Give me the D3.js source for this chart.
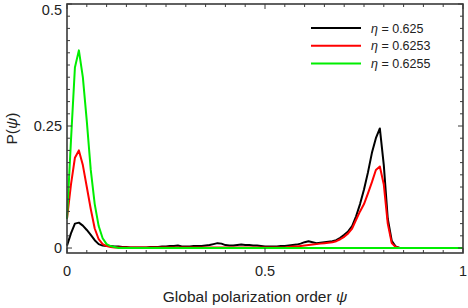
<!DOCTYPE html>
<html lang="en">
<head>
<meta charset="utf-8">
<title>P(psi)</title>
<script src="https://d3js.org/d3.v7.min.js"></script>
<style>
  body { margin: 0; background: #fff; }
  text { font-family: "Liberation Sans", Arial, sans-serif; fill: #222; }
  .curve { fill: none; stroke-width: 2px; stroke-linejoin: round; }
</style>
</head>
<body>
<svg width="468" height="308"></svg>
<script>
// bins of psi, 0 .. 1 in steps of 0.01
var psi = d3.range(101).map(function(i) { return i / 100; });

var black = [0.005,0.03,0.05,0.052,0.046,0.037,0.027,0.016,0.008,0.005,
  0.004,0.004,0.003,0.003,0.002,0.002,0.001,0.001,0.001,0.001,
  0.001,0.002,0.002,0.002,0.003,0.003,0.004,0.004,0.005,0.003,
  0.003,0.003,0.004,0.004,0.004,0.005,0.006,0.008,0.010,0.009,
  0.006,0.005,0.005,0.006,0.007,0.006,0.006,0.005,0.005,0.004,
  0.003,0.003,0.003,0.003,0.004,0.004,0.005,0.006,0.007,0.009,
  0.012,0.014,0.012,0.010,0.011,0.012,0.013,0.014,0.016,0.021,
  0.027,0.034,0.045,0.065,0.09,0.12,0.155,0.195,0.225,0.245,
  0.17,0.06,0.015,0.003,0,0,0,0,0,0,
  0,0,0,0,0,0,0,0,0,0,0];

var red = [0.06,0.13,0.185,0.2,0.17,0.125,0.08,0.04,0.018,0.008,
  0.004,0.002,0.001,0.001,0.001,0.001,0.001,0.001,0.001,0.001,
  0.001,0.001,0.001,0.001,0.001,0.001,0.001,0.001,0.001,0.001,
  0.001,0.001,0.001,0.001,0.001,0.001,0.001,0.001,0.001,0.001,
  0.001,0.001,0.001,0.001,0.001,0.001,0.001,0.001,0.001,0.001,
  0.001,0.001,0.001,0.001,0.001,0.001,0.002,0.003,0.003,0.004,
  0.005,0.006,0.007,0.008,0.009,0.010,0.011,0.012,0.014,0.018,
  0.023,0.03,0.04,0.058,0.075,0.09,0.112,0.135,0.16,0.167,
  0.13,0.05,0.01,0.002,0,0,0,0,0,0,
  0,0,0,0,0,0,0,0,0,0,0];

var green = [0.06,0.22,0.37,0.405,0.35,0.26,0.16,0.09,0.045,0.02,
  0.008,0.004,0.002,0,0,0,0,0,0,0,
  0,0,0,0,0,0,0,0,0,0,
  0,0,0,0,0,0,0,0,0,0,
  0,0,0,0,0,0,0,0,0,0,
  0,0,0,0,0,0,0,0,0,0,
  0,0,0,0,0,0,0,0,0,0,
  0,0,0,0,0,0,0,0,0,0,
  0,0,0,0,0,0,0,0,0,0,
  0,0,0,0,0,0,0,0,0,0,0];

var seriesNames = ["0.625", "0.6253", "0.6255"];
var seriesColors = ["#000000", "#ff0000", "#00ee00"];
var seriesValues = [black, red, green];

var xTicks = [0, 0.5, 1];
var xTickLabels = ["0", "0.5", "1"];
var yTicks = [0, 0.25, 0.5];
var yTickLabels = ["0", "0.25", "0.5"];

var svg = d3.select("svg");
var pLeft = 67, pRight = 463, pTop = 4, pBottom = 253;

var x = d3.scaleLinear().domain([0, 1]).range([pLeft, pRight]);
var y = d3.scaleLinear().domain([-0.0102, 0.5]).range([pBottom, pTop]);

var line = d3.line()
  .x(function(d, i) { return x(psi[i]); })
  .y(function(d) { return y(d); });

// curves (drawn under the frame)
var plot = svg.append("g");
seriesValues.forEach(function(vals, k) {
  plot.append("path")
    .datum(vals)
    .attr("class", "curve")
    .attr("stroke", seriesColors[k])
    .attr("d", line);
});

// frame with inward ticks on all sides
var frameColor = "#3a3a3a";
var axes = svg.append("g").attr("stroke", frameColor);
axes.append("rect")
  .attr("x", pLeft).attr("y", pTop)
  .attr("width", pRight - pLeft).attr("height", pBottom - pTop)
  .attr("fill", "none").attr("stroke-width", 1.6);

var xMinor = d3.range(0, 1.0001, 0.05);
xMinor.forEach(function(t) {
  var major = xTicks.some(function(m) { return Math.abs(m - t) < 1e-6; });
  var len = major ? 5 : 3;
  axes.append("line").attr("x1", x(t)).attr("x2", x(t))
    .attr("y1", pBottom).attr("y2", pBottom - len).attr("stroke-width", 1);
  axes.append("line").attr("x1", x(t)).attr("x2", x(t))
    .attr("y1", pTop).attr("y2", pTop + len).attr("stroke-width", 1);
});
var yMinor = d3.range(0, 0.5001, 0.025);
yMinor.forEach(function(t) {
  var major = yTicks.some(function(m) { return Math.abs(m - t) < 1e-6; });
  var len = major ? 5 : 3;
  axes.append("line").attr("y1", y(t)).attr("y2", y(t))
    .attr("x1", pLeft).attr("x2", pLeft + len).attr("stroke-width", 1);
  axes.append("line").attr("y1", y(t)).attr("y2", y(t))
    .attr("x1", pRight).attr("x2", pRight - len).attr("stroke-width", 1);
});

// tick labels
xTicks.forEach(function(t, i) {
  svg.append("text")
    .attr("x", x(t)).attr("y", 276)
    .attr("text-anchor", "middle")
    .style("font-size", "14.5px")
    .text(xTickLabels[i]);
});
yTicks.forEach(function(t, i) {
  svg.append("text")
    .attr("x", pLeft - 5)
    .attr("y", Math.max(y(t), 10))
    .attr("dy", "0.36em")
    .attr("text-anchor", "end")
    .style("font-size", "14.5px")
    .text(yTickLabels[i]);
});

// axis titles
var xt = svg.append("text")
  .attr("x", 255).attr("y", 302)
  .attr("text-anchor", "middle")
  .style("font-size", "15.5px");
xt.append("tspan").text("Global polarization order ");
xt.append("tspan").style("font-style", "italic").text("\u03C8");

var yt = svg.append("text")
  .attr("transform", "translate(17," + ((pTop + pBottom) / 2) + ") rotate(-90)")
  .attr("text-anchor", "middle")
  .style("font-size", "15.5px");
yt.append("tspan").text("P(");
yt.append("tspan").style("font-style", "italic").text("\u03C8");
yt.append("tspan").text(")");

// legend
var legend = svg.append("g");
seriesNames.forEach(function(name, k) {
  var ly = 28 + k * 17.8;
  legend.append("line")
    .attr("x1", 311).attr("x2", 361)
    .attr("y1", ly).attr("y2", ly)
    .attr("stroke", seriesColors[k]).attr("stroke-width", 2);
  var t = legend.append("text")
    .attr("x", 371).attr("y", ly).attr("dy", "0.36em")
    .style("font-size", "12.5px");
  t.append("tspan").style("font-style", "italic").text("\u03B7");
  t.append("tspan").text(" = " + name);
});
</script>
</body>
</html>
